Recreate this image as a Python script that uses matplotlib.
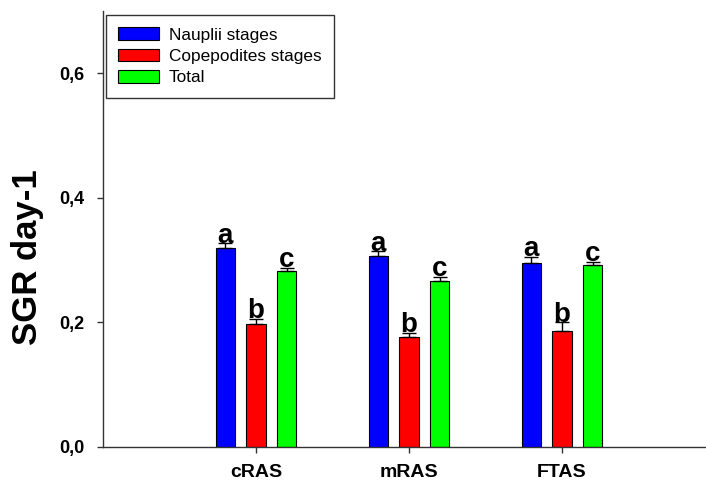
import matplotlib.pyplot as plt
import numpy as np

plt.rcParams['font.family'] = ['Liberation Sans', 'DejaVu Sans']

# Specific growth rate per treatment and development stage
systems = ["cRAS", "mRAS", "FTAS"]
series_names = ["Nauplii stages", "Copepodites stages", "Total"]
sgr_nauplii = [0.319, 0.306, 0.296]
sgr_copepodites = [0.198, 0.176, 0.186]
sgr_total = [0.282, 0.267, 0.292]
err_nauplii = [0.008, 0.008, 0.009]
err_copepodites = [0.008, 0.007, 0.014]
err_total = [0.006, 0.006, 0.005]
letters_nauplii = ["a", "a", "a"]
letters_copepodites = ["b", "b", "b"]
letters_total = ["c", "c", "c"]

colors = ["#0000ff", "#ff0000", "#00ff00"]
offsets = [-0.2, 0.0, 0.2]
bar_width = 0.125

fig = plt.figure(figsize=(7.06, 4.83), dpi=100)
ax = fig.add_axes([103 / 706, 1 - 447 / 483, 612 / 706, 436 / 483])

x = np.arange(1, len(systems) + 1)
groups = [
    (sgr_nauplii, err_nauplii, letters_nauplii),
    (sgr_copepodites, err_copepodites, letters_copepodites),
    (sgr_total, err_total, letters_total),
]
for (vals, errs, letters), name, color, off in zip(groups, series_names, colors, offsets):
    ax.bar(x + off, vals, width=bar_width, color=color, edgecolor="black",
           linewidth=0.8, label=name, zorder=2)
    ax.errorbar(x + off, vals, yerr=[np.zeros(len(errs)), errs], fmt="none",
                ecolor="black", elinewidth=1, capsize=5, capthick=1, zorder=3)
    for xi, v, e, lab in zip(x + off, vals, errs, letters):
        ax.text(xi, v + e + 0.001, lab, ha="center", va="baseline",
                fontsize=20, fontweight="bold", zorder=4)

ax.set_xlim(0, 4)
ax.set_ylim(0, 0.7)
ax.set_xticks(x)
ax.set_xticklabels(systems, fontsize=14, fontweight="bold")
ax.set_yticks([0.0, 0.2, 0.4, 0.6])
ax.set_yticklabels(["0,0", "0,2", "0,4", "0,6"], fontsize=13, fontweight="bold")
ax.tick_params(axis="y", direction="out", length=4.5, width=1, pad=9, color="#333333")
ax.tick_params(axis="x", direction="out", length=4.5, width=1, pad=8, color="#333333")
ax.spines["top"].set_visible(False)
ax.spines["right"].set_visible(False)
for side in ["left", "bottom"]:
    ax.spines[side].set_color("#333333")
    ax.spines[side].set_linewidth(1)

fig.text(28 / 706, 1 - 257 / 483, "SGR day-1", rotation=90, ha="center", va="center",
         fontsize=25, fontweight="bold")

leg = ax.legend(loc="upper left", bbox_to_anchor=(106 / 706, 1 - 15 / 483),
                bbox_transform=fig.transFigure, fontsize=12.4, frameon=True,
                fancybox=False, borderaxespad=0, handlelength=2.33, handleheight=0.76,
                handletextpad=0.58, labelspacing=0.34, borderpad=0.72)
leg.get_frame().set_edgecolor("black")
leg.get_frame().set_linewidth(1)

fig.savefig("out.png", dpi=100)
